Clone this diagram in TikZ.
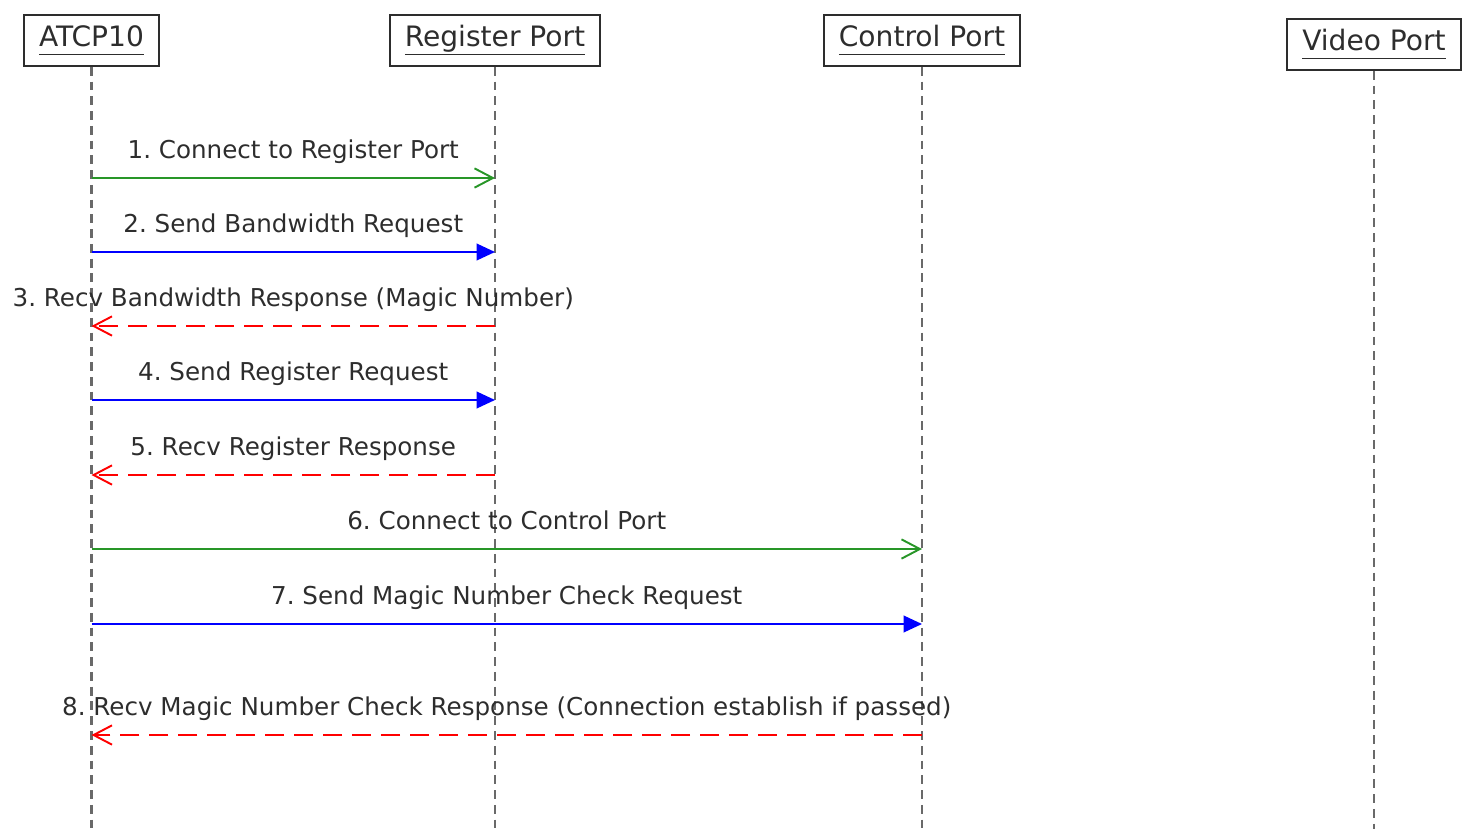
\documentclass[tikz,border=0pt]{standalone}
\usepackage{fontspec}
\setmainfont{DejaVu Sans}
\usetikzlibrary{arrows.meta}
\usepackage{xcolor}
\definecolor{msggreen}{RGB}{40,150,40}
\definecolor{msgblue}{RGB}{0,0,255}
\definecolor{msgred}{RGB}{255,0,0}
\definecolor{inkgray}{RGB}{45,45,45}
\definecolor{linegray}{RGB}{105,105,105}
\newcommand{\headline}[1]{\underline{#1\vphantom{g}}}
\frenchspacing

\begin{document}
\begin{tikzpicture}[x=0.02cm,y=-0.02cm,text=inkgray,
  actor/.style={draw=inkgray,line width=1pt,minimum height=1.02cm,inner xsep=0.3cm,
    font=\fontsize{16}{19}\selectfont},
  lifeline/.style={draw=linegray,line width=1.2pt,dash pattern=on 5pt off 3.4pt},
  msg/.style={midway,anchor=base,yshift=11pt,text=inkgray,font=\fontsize{14}{17}\selectfont},
  connect/.style={msggreen,line width=1.1pt,-{Straight Barb[length=10.5pt,width=11pt]}},
  request/.style={msgblue,line width=1.1pt,-{Triangle[length=10.5pt,width=9.5pt]}},
  reply/.style={msgred,line width=1.1pt,dash pattern=on 11pt off 5.5pt,-{Straight Barb[length=10.5pt,width=11pt]}}]
\useasboundingbox (0,0) rectangle (1472,829);
\node[actor] (atcp) at (91.5,40.5) {\headline{ATCP10}};
\node[actor] (reg) at (495,40.5) {\headline{Register Port}};
\node[actor] (ctrl) at (922,40.5) {\headline{Control Port}};
\node[actor] (video) at (1374,44.5) {\headline{Video Port}};
\coordinate (floor) at (0,829);
\draw[lifeline] (atcp.south) -- (atcp |- floor);
\draw[lifeline] (reg.south) -- (reg |- floor);
\draw[lifeline] (ctrl.south) -- (ctrl |- floor);
\draw[lifeline] (video.south) -- (video |- floor);
\coordinate (m1) at (0,178);
\coordinate (m2) at (0,252);
\coordinate (m3) at (0,326);
\coordinate (m4) at (0,400);
\coordinate (m5) at (0,475);
\coordinate (m6) at (0,549);
\coordinate (m7) at (0,624);
\coordinate (m8) at (0,735);
\draw[connect] (atcp |- m1) -- (reg |- m1) node[msg]{1. Connect to Register Port};
\draw[request] (atcp |- m2) -- (reg |- m2) node[msg]{2. Send Bandwidth Request};
\draw[reply] (reg |- m3) -- (atcp |- m3) node[msg]{3. Recv Bandwidth Response (Magic Number)};
\draw[request] (atcp |- m4) -- (reg |- m4) node[msg]{4. Send Register Request};
\draw[reply] (reg |- m5) -- (atcp |- m5) node[msg]{5. Recv Register Response};
\draw[connect] (atcp |- m6) -- (ctrl |- m6) node[msg]{6. Connect to Control Port};
\draw[request] (atcp |- m7) -- (ctrl |- m7) node[msg]{7. Send Magic Number Check Request};
\draw[reply] (ctrl |- m8) -- (atcp |- m8) node[msg]{8. Recv Magic Number Check Response (Connection establish if passed)};
\end{tikzpicture}
\end{document}
